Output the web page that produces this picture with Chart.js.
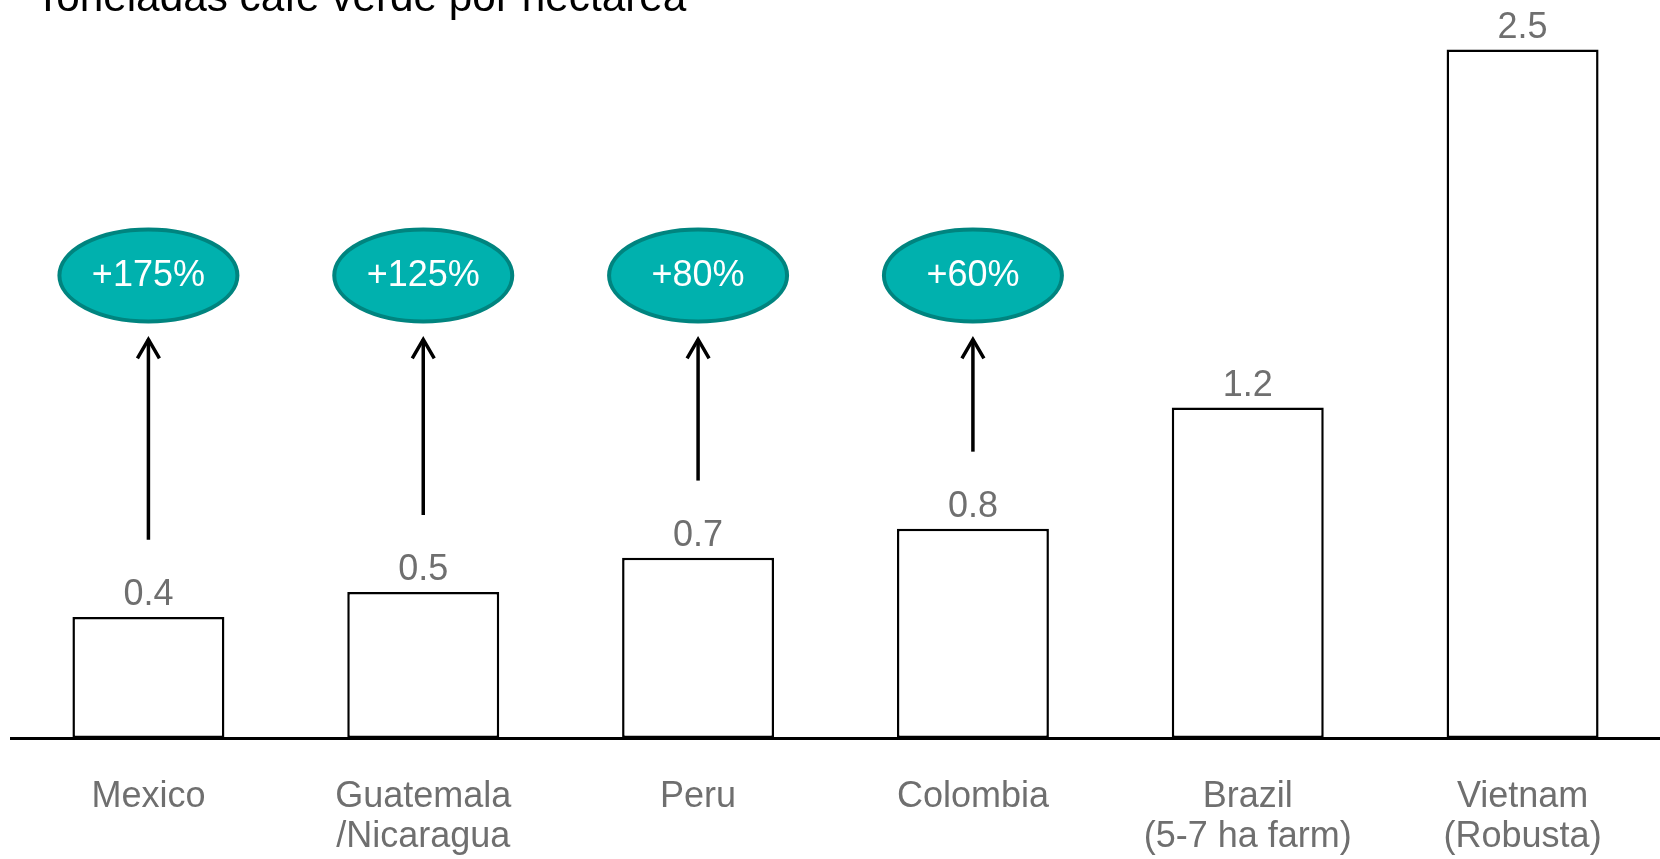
<!DOCTYPE html>
<html>
<head>
<meta charset="utf-8">
<script src="https://cdn.jsdelivr.net/npm/chart.js@4.4.1/dist/chart.umd.min.js"></script>
<style>
    body { margin: 0; background: #fff; }
    #wrap { position: relative; width: 1660px; height: 859px; overflow: hidden; }
    #inner { position: relative; width: 1660px; height: 896px; }
</style>
</head>
<body>
<div id="wrap"><div id="inner"><canvas id="yieldCanvas"></canvas></div></div>
<script>
const categories = [['Mexico'], ['Guatemala', '/Nicaragua'], ['Peru'], ['Colombia'], ['Brazil', '(5-7 ha farm)'], ['Vietnam', '(Robusta)']]
const yieldValues = [0.44, 0.53, 0.655, 0.76, 1.2, 2.5]
const growthLabels = ['+175%', '+125%', '+80%', '+60%', null, null]
const titleText = 'Toneladas café verde por hectárea'

// levels in data units (converted through the y scale)
const badgeLevel = 1.68
const arrowTipLevel = 1.455
const arrowGap = 0.28

const gray = '#6f6f6f'
const teal = '#00b1ae'
const tealDark = '#00847f'

Chart.defaults.font.family = '"Liberation Sans", Arial, sans-serif'

const annotations = {
    id: 'annotations',
    afterDatasetsDraw(chart) {
        const ctx = chart.ctx
        const y = chart.scales.y
        const meta = chart.getDatasetMeta(0)

        ctx.save()
        // title, partly cut at the top
        ctx.fillStyle = '#000'
        ctx.font = '42.3px "Liberation Sans", Arial, sans-serif'
        ctx.textAlign = 'left'
        ctx.textBaseline = 'alphabetic'
        ctx.fillText(titleText, 35, 11)

        // value labels
        ctx.fillStyle = gray
        ctx.font = '36px "Liberation Sans", Arial, sans-serif'
        ctx.textAlign = 'center'
        meta.data.forEach((bar, i) => {
            ctx.fillText(yieldValues[i].toFixed(1), bar.x, bar.y - 12)
        })

        // arrows and badges
        meta.data.forEach((bar, i) => {
            if (!growthLabels[i]) return
            const x = bar.x
            const tip = y.getPixelForValue(arrowTipLevel)
            const bottom = y.getPixelForValue(yieldValues[i] + arrowGap)

            ctx.strokeStyle = '#000'
            ctx.lineWidth = 3.5
            ctx.lineCap = 'butt'
            ctx.beginPath()
            ctx.moveTo(x, bottom)
            ctx.lineTo(x, tip + 2)
            ctx.stroke()
            ctx.lineJoin = 'miter'
            ctx.beginPath()
            ctx.moveTo(x - 11, tip + 21)
            ctx.lineTo(x, tip + 2)
            ctx.lineTo(x + 11, tip + 21)
            ctx.stroke()

            const cy = y.getPixelForValue(badgeLevel)
            ctx.beginPath()
            ctx.ellipse(x, cy, 89, 46, 0, 0, Math.PI * 2)
            ctx.fillStyle = teal
            ctx.fill()
            ctx.lineWidth = 4
            ctx.strokeStyle = tealDark
            ctx.stroke()

            ctx.fillStyle = '#fff'
            ctx.textBaseline = 'middle'
            ctx.fillText(growthLabels[i], x, cy + 1)
            ctx.textBaseline = 'alphabetic'
        })
        ctx.restore()
    }
}

const config = {
    type: 'bar',
    data: {
        labels: categories,
        datasets: [{
            data: yieldValues,
            backgroundColor: '#fff',
            borderColor: '#000',
            borderWidth: 2.5,
            borderSkipped: false,
            barPercentage: 0.553,
            categoryPercentage: 1
        }]
    },
    options: {
        responsive: true,
        maintainAspectRatio: false,
        animation: false,
        layout: {
            padding: { left: 11, right: 0, top: 0, bottom: 0 }
        },
        plugins: {
            legend: { display: false },
            tooltip: { enabled: false }
        },
        scales: {
            x: {
                grid: { display: false, drawTicks: false },
                border: { display: true, color: '#000', width: 3 },
                ticks: {
                    color: gray,
                    padding: 39,
                    font: { size: 36, lineHeight: 1.11 },
                    maxRotation: 0,
                    autoSkip: false
                }
            },
            y: {
                display: false,
                min: 0,
                max: 2.68
            }
        }
    },
    plugins: [annotations]
}

new Chart(document.querySelector('#yieldCanvas'), config)
</script>
</body>
</html>
